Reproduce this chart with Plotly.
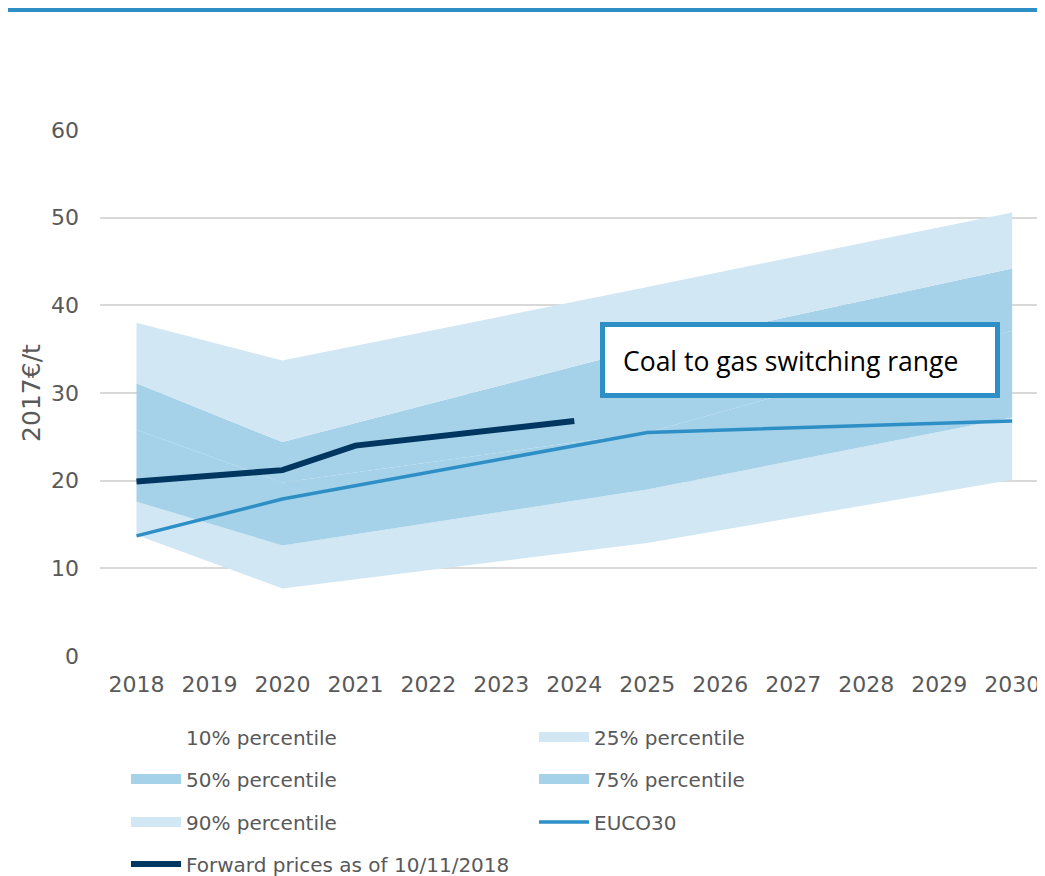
import plotly.graph_objects as go

# ---------------- data ----------------
x_ticks = [2018, 2019, 2020, 2021, 2022, 2023, 2024, 2025, 2026, 2027, 2028, 2029, 2030]

band_years = [2018, 2020, 2025, 2030]
p10 = [13.8, 7.7, 12.9, 20.1]
p25 = [17.6, 12.6, 19.0, 27.2]
p50 = [25.8, 19.8, 25.5, 37.1]
p75 = [31.1, 24.4, 35.2, 44.2]
p90 = [38.0, 33.7, 42.1, 50.6]

euco_years = [2018, 2020, 2025, 2030]
euco30 = [13.7, 17.9, 25.5, 26.8]

fwd_years = [2018, 2020, 2021, 2022, 2023, 2024]
forward = [19.9, 21.2, 24.0, 24.9, 25.9, 26.8]

# ---------------- style ----------------
LIGHT = "rgb(209,231,243)"
MEDIUM = "rgb(165,210,233)"
EUCO_C = "#2e8fc6"
FWD_C = "#00365f"
GREY = "#595959"
FONT = "DejaVu Sans"

fig = go.Figure()

bands = [
    ("10% percentile", p10, None, "legend"),
    ("25% percentile", p25, LIGHT, "legend"),
    ("50% percentile", p50, MEDIUM, "legend2"),
    ("75% percentile", p75, MEDIUM, "legend2"),
    ("90% percentile", p90, LIGHT, "legend3"),
]

# stacked band areas (each filled down to the previous percentile)
for name, vals, color, leg in bands:
    fig.add_trace(go.Scatter(
        x=band_years, y=vals, name=name, mode="lines", legendgroup=name, showlegend=False,
        line=dict(width=0, color="rgba(0,0,0,0)"),
        fill=None if color is None else "tonexty",
        fillcolor=color))

# legend swatches for the bands (wide block symbol like the original)
for name, vals, color, leg in bands:
    fig.add_trace(go.Scatter(
        x=[None], y=[None], name=name, mode="lines", legendgroup=name, legend=leg,
        line=dict(width=0 if color is None else 15, color=color or "rgba(0,0,0,0)"),
        hoverinfo="skip"))

fig.add_trace(go.Scatter(x=euco_years, y=euco30, name="EUCO30", mode="lines",
                         line=dict(width=3.5, color=EUCO_C), legend="legend3"))
fig.add_trace(go.Scatter(x=fwd_years, y=forward, name="Forward prices as of 10/11/2018", mode="lines",
                         line=dict(width=6, color=FWD_C), legend="legend4"))

# page body adds an 8px offset; layout below is expressed in window pixels
OFF = 8
W, H = 1045, 876
L, T = 100 - OFF, 130 - OFF
PW, PH = 945, 526
R = W - L - PW
B = H - T - PH


def px_x(p):
    return (p - OFF - L) / PW


def px_y(p):
    return (H - B - (p - OFF)) / PH


leg_common = dict(orientation="h", entrywidth=343, entrywidthmode="pixels", itemwidth=50,
                  xanchor="left", yanchor="middle", bgcolor="rgba(0,0,0,0)",
                  font=dict(family=FONT, size=20, color=GREY), x=px_x(126),
                  traceorder="normal")

fig.update_layout(
    width=W, height=H,
    margin=dict(l=L, r=R, t=T, b=B, autoexpand=False),
    paper_bgcolor="white", plot_bgcolor="white",
    showlegend=True,
    legend=dict(leg_common, y=px_y(737)),
    legend2=dict(leg_common, y=px_y(779)),
    legend3=dict(leg_common, y=px_y(822)),
    legend4=dict(leg_common, y=px_y(864)),
    xaxis=dict(range=[2017.5, 2030.45], tickmode="array", tickvals=x_ticks,
               ticktext=[str(v) for v in x_ticks], showgrid=False, zeroline=False,
               showline=False, ticks="", ticklabelstandoff=13, automargin=False,
               tickfont=dict(family=FONT, size=22, color=GREY)),
    yaxis=dict(range=[0, 60], dtick=10, showgrid=True, gridcolor="#d9d9d9", gridwidth=1.5,
               zeroline=False, showline=False, ticks="", ticklabelstandoff=20, automargin=False,
               tickfont=dict(family=FONT, size=22, color=GREY),
               title=dict(text="2017€/t", font=dict(family=FONT, size=25, color=GREY), standoff=3)),
    shapes=[
        dict(type="rect", xref="paper", yref="paper", x0=px_x(OFF), x1=1.0 + R / PW,
             y0=px_y(12), y1=px_y(8), fillcolor=EUCO_C, line=dict(width=0), layer="above"),
        dict(type="rect", xref="paper", yref="paper", x0=px_x(602.5), x1=px_x(997.5),
             y0=px_y(395.5), y1=px_y(324.5), fillcolor="white",
             line=dict(width=5, color=EUCO_C), layer="above"),
    ],
    annotations=[
        dict(text="Coal to gas switching range", xref="paper", yref="paper",
             x=px_x(621), y=px_y(361), xanchor="left", yanchor="middle", showarrow=False,
             font=dict(family="Open Sans", size=26.5, color="black")),
    ],
)

fig.write_html("out.html")
